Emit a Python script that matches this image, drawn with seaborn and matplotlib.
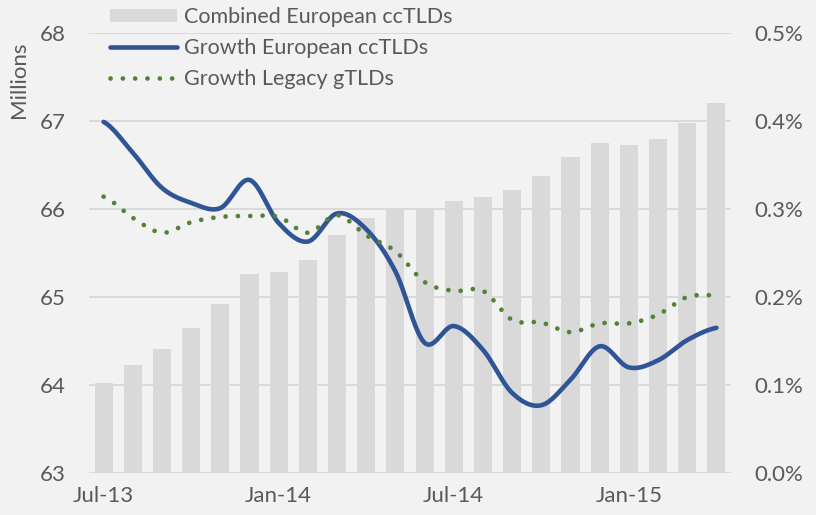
import numpy as np
import pandas as pd
import matplotlib
matplotlib.use("Agg")
import matplotlib.pyplot as plt
import seaborn as sns
from matplotlib.patches import Patch
from matplotlib.lines import Line2D

months = ["Jul-13", "Aug-13", "Sep-13", "Oct-13", "Nov-13", "Dec-13",
          "Jan-14", "Feb-14", "Mar-14", "Apr-14", "May-14", "Jun-14",
          "Jul-14", "Aug-14", "Sep-14", "Oct-14", "Nov-14", "Dec-14",
          "Jan-15", "Feb-15", "Mar-15", "Apr-15"]

# combined european ccTLDs, millions
combined = [64.02, 64.23, 64.41, 64.65, 64.92, 65.26, 65.28, 65.42, 65.71, 65.90, 65.99,
            66.01, 66.09, 66.14, 66.22, 66.38, 66.59, 66.75, 66.73, 66.80, 66.98, 67.20]

# monthly growth, percent
growth_cc = [0.399, 0.364, 0.324, 0.307, 0.301, 0.333, 0.284, 0.263, 0.295, 0.277, 0.229,
             0.148, 0.167, 0.140, 0.091, 0.077, 0.106, 0.144, 0.120, 0.128, 0.151, 0.165]
growth_legacy = [0.314, 0.290, 0.273, 0.285, 0.291, 0.292, 0.291, 0.273, 0.293, 0.270, 0.252,
                 0.217, 0.207, 0.207, 0.174, 0.171, 0.160, 0.170, 0.170, 0.180, 0.200, 0.202]

left_ticks = [63, 64, 65, 66, 67, 68]
right_ticks = [0.0, 0.1, 0.2, 0.3, 0.4, 0.5]


def smooth(y, n=30):
    # catmull-rom, roughly what excel's "smoothed line" does
    y = np.asarray(y, dtype=float)
    p = np.concatenate([[y[0]], y, [y[-1]]])
    xs, ys = [], []
    for i in range(len(y) - 1):
        p0, p1, p2, p3 = p[i], p[i + 1], p[i + 2], p[i + 3]
        t = np.linspace(0, 1, n, endpoint=False)
        v = 0.5 * (2 * p1 + (-p0 + p2) * t + (2 * p0 - 5 * p1 + 4 * p2 - p3) * t ** 2
                   + (-p0 + 3 * p1 - 3 * p2 + p3) * t ** 3)
        xs.append(i + t)
        ys.append(v)
    xs.append([len(y) - 1])
    ys.append([y[-1]])
    return np.concatenate(xs), np.concatenate(ys)


bg = "#F2F2F2"
grid_c = "#D9D9D9"
text_c = "#595959"
blue = "#2F5597"
green = "#548235"

sns.set_theme(style="white")
plt.rcParams["font.family"] = ["Lato", "DejaVu Sans"]

fig = plt.figure(figsize=(8.16, 5.15), dpi=100, facecolor=bg)
ax = fig.add_axes([89 / 816, 1 - 473 / 515, (731 - 89) / 816, (473 - 33) / 515])
ax.set_facecolor(bg)

df = pd.DataFrame({"month": months, "combined": combined})
sns.barplot(data=df, x="month", y="combined", color=grid_c, saturation=1,
            width=0.62, ax=ax, zorder=2, bottom=0, linewidth=0, edgecolor="none")

ax.set_ylim(63, 68)
ax.set_yticks(left_ticks)
ax.set_yticklabels([str(t) for t in left_ticks])
ax.set_xlim(-0.5, len(months) - 0.5)
ax.set_xticks(range(0, len(months), 6))
ax.set_xticklabels(months[::6])
ax.yaxis.grid(True, color=grid_c, linewidth=1.4, zorder=0)
ax.set_axisbelow(True)
ax.set_xlabel("")
ax.set_ylabel("Millions", color=text_c, fontsize=16)
ax.yaxis.set_label_coords(-0.094, 0.894)
for s in ax.spines.values():
    s.set_visible(False)
ax.tick_params(axis="both", length=0, colors=text_c, labelsize=16)
ax.tick_params(axis="y", pad=16.5)
ax.tick_params(axis="x", pad=9)

ax2 = ax.twinx()
ax2.set_zorder(ax.get_zorder() + 1)
ax2.patch.set_visible(False)

x1, y1 = smooth(growth_cc)
x2, y2 = smooth(growth_legacy)
sns.lineplot(x=x1, y=y1, ax=ax2, color=blue, linewidth=3.3, sort=False,
             solid_capstyle="round")
sns.lineplot(x=x2, y=y2, ax=ax2, color=green, linewidth=3.4, sort=False,
             linestyle=(0, (0.01, 2.6)), dash_capstyle="round")

ax2.set_ylim(0, 0.5)
ax2.set_yticks(right_ticks)
ax2.set_yticklabels([f"{t:.1f}%" for t in right_ticks])
for s in ax2.spines.values():
    s.set_visible(False)
ax2.tick_params(axis="y", length=0, colors=text_c, labelsize=16, pad=17)
ax2.set_ylabel("")

handles = [
    Patch(facecolor=grid_c, edgecolor="none"),
    Line2D([], [], color=blue, linewidth=3.3, solid_capstyle="round"),
    Line2D([], [], color=green, linewidth=3.4, linestyle=(0, (0.01, 2.6)), dash_capstyle="round"),
]
labels = ["Combined European ccTLDs", "Growth European ccTLDs", "Growth Legacy gTLDs"]
leg = ax2.legend(handles, labels, loc="upper left", bbox_to_anchor=(110 / 816, 1 - 7 / 515),
                 bbox_transform=fig.transFigure, frameon=False, fontsize=15.5,
                 handlelength=3.1, handleheight=0.6, handletextpad=0.35,
                 labelspacing=0.52, borderaxespad=0, borderpad=0)
for t in leg.get_texts():
    t.set_color(text_c)

fig.savefig("out.png", dpi=100, facecolor=bg)
